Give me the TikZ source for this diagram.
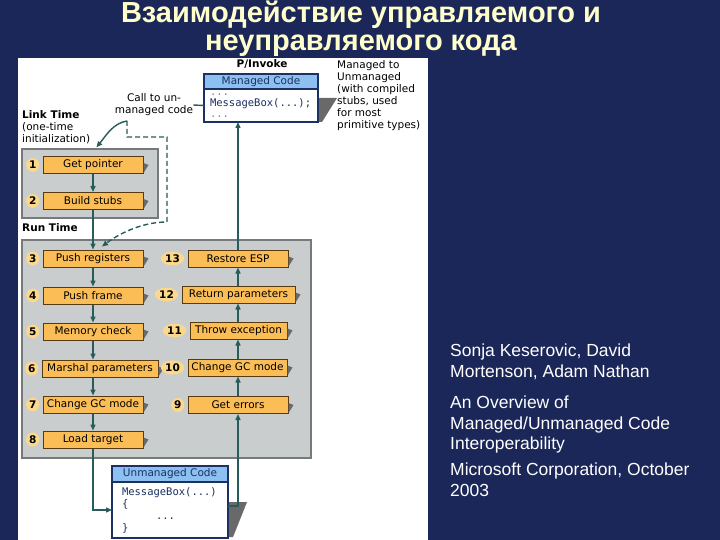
\documentclass[tikz,border=0pt]{standalone}
\usepackage{fontspec}
\setmainfont{Liberation Sans}
\newfontfamily\verdana{DejaVu Sans}
\newfontfamily\codefont{DejaVu Sans Mono}
\usetikzlibrary{shapes.geometric, arrows.meta, positioning, calc}

\definecolor{slidenavy}{RGB}{27,39,88}
\definecolor{titleyellow}{RGB}{255,255,204}
\definecolor{steporange}{RGB}{251,189,86}
\definecolor{stepedge}{RGB}{88,58,18}
\definecolor{tagglow}{RGB}{252,216,140}
\definecolor{phasegrey}{RGB}{201,205,205}
\definecolor{phaseedge}{RGB}{118,122,122}
\definecolor{flowteal}{RGB}{38,92,92}
\definecolor{headblue}{RGB}{140,192,240}
\definecolor{codenavy}{RGB}{28,48,98}
\definecolor{wedgegrey}{RGB}{105,105,105}

\tikzset{
  stepbox/.style={draw=stepedge, fill=steporange, line width=1pt, minimum width=100pt, minimum height=17pt, inner sep=0pt, font=\verdana\fontsize{10.5}{12}\selectfont},
  numtag/.style={ellipse, fill=tagglow, inner sep=1pt, font=\verdana\bfseries\fontsize{10.5}{12}\selectfont},
  phasebox/.style={draw=phaseedge, fill=phasegrey, line width=1.2pt},
  codehead/.style={draw=codenavy, fill=headblue, line width=1.6pt, inner sep=0pt, outer sep=0pt, font=\verdana\fontsize{10.5}{12}\selectfont, text=codenavy},
  codebody/.style={draw=codenavy, fill=white, line width=1.6pt, outer sep=0pt, align=left, font=\codefont\fontsize{10.5}{12}\selectfont, text=codenavy},
  flow/.style={draw=flowteal, line width=1.4pt, -{Triangle[length=6pt,width=5pt]}},
  skipflow/.style={flow, dash pattern=on 5pt off 3pt},
  note/.style={font=\verdana\fontsize{10.5}{12}\selectfont, align=left, inner sep=0pt},
  slidetitle/.style={font=\bfseries\fontsize{29}{28}\selectfont, text=titleyellow, align=center, inner sep=0pt, anchor=north},
  slidetext/.style={text=white, font=\fontsize{17.5}{20.5}\selectfont, align=left, inner sep=0pt, anchor=north west},
}

\begin{document}
\begin{tikzpicture}[x=1pt, y=-1pt]
\useasboundingbox (0,0) rectangle (720,540);
\fill[slidenavy] (0,0) rectangle (720,540);
\clip (0,0) rectangle (720,540);

% diagram panel
\fill[white] (18,58) rectangle (428,540);

% title
\node[slidetitle] (title) at (361,1) {Взаимодействие управляемого и\\неуправляемого кода};

% phases
\node[phasebox, minimum width=136pt, minimum height=69pt] (linkbox) at (90,183.5) {};
\node[phasebox, minimum width=289pt, minimum height=218pt] (runbox) at (166.5,349) {};
\node[note, anchor=north west] (linklabel) at (22,110) {\textbf{Link Time}\\(one-time\\initialization)};
\node[note, font=\verdana\bfseries\fontsize{10.5}{12}\selectfont, anchor=base west] (runlabel) at (22,231) {Run Time};

% shadows of code boxes
\fill[wedgegrey] (318,98) -- (337,98) -- (322,122) -- (318,122) -- cycle;
\fill[wedgegrey] (228,502) -- (247,502) -- (233,537) -- (228,537) -- cycle;

% code boxes
\node[font=\verdana\bfseries\fontsize{10.5}{12}\selectfont, anchor=base] (pinv) at (262,68) {P/Invoke};
\node[codehead, minimum width=114pt, minimum height=15pt] (mhead) at (261,81.5) {Managed Code};
\node[codebody, minimum width=114pt, minimum height=33pt, text width=102pt, inner xsep=6pt, inner ysep=1pt, font=\codefont\fontsize{10.5}{11}\selectfont, below=0pt of mhead] (mbody) {\textcolor{gray}{...}\\MessageBox(...);\\\textcolor{gray}{...}};
\node[note, anchor=north west] (mnote) at (337,60) {Managed to\\Unmanaged\\(with compiled\\stubs, used\\for most\\primitive types)};

\node[codehead, minimum width=116pt, minimum height=16pt] (uhead) at (170,474) {Unmanaged Code};
\node[codebody, minimum width=116pt, minimum height=56pt, text width=96pt, inner xsep=10pt, below=0pt of uhead] (ubody) {MessageBox(...)\\\{\\\hspace*{34pt}...\\\}};

% steps
\node[stepbox] (s1) at (93,165) {Get pointer};
\node[stepbox] (s2) at (93,201) {Build stubs};
\node[stepbox] (s3) at (93,258.5) {Push registers};
\node[stepbox] (s4) at (93,295.5) {Push frame};
\node[stepbox] (s5) at (93,331.5) {Memory check};
\node[stepbox, minimum width=116pt] (s6) at (100,368.5) {Marshal parameters};
\node[stepbox] (s7) at (93,404.5) {Change GC mode};
\node[stepbox] (s8) at (93,439.5) {Load target};
\node[stepbox] (s9) at (238,405) {Get errors};
\node[stepbox, minimum width=99pt] (s10) at (237.5,367.5) {Change GC mode};
\node[stepbox, minimum width=97pt] (s11) at (238.5,330.5) {Throw exception};
\node[stepbox, minimum width=113pt] (s12) at (238.5,294.5) {Return parameters};
\node[stepbox] (s13) at (238,258.5) {Restore ESP};

\foreach \s in {s1,s2,s3,s4,s5,s6,s7,s8,s9,s10,s11,s12,s13}
  \fill[wedgegrey] ($(\s.east)+(0,-2)$) -- ($(\s.east)+(5,0)$) -- ($(\s.south east)+(0,-1)$) -- cycle;

\foreach \s/\n in {s1/1,s2/2,s3/3,s4/4,s5/5,s6/6,s7/7,s8/8,s9/9,s10/10,s11/11,s12/12,s13/13}
  \node[numtag, left=3pt of \s] (t\n) {\n};

% call into unmanaged code
\node[note, align=center] (call) at (154,105) {Call to un-\\managed code};
\draw[draw=flowteal, line width=1.4pt] (call.east) -- (mbody.west);
\coordinate (fork) at (127,121);
\draw[flow] (fork) .. controls +(-14,2) and +(9,-11) .. ($(linkbox.north west)+(75,-1)$);
\coordinate (skiptop) at (167,137);
\coordinate (skipturn) at (167,222);
\draw[skipflow] (fork) |- (skiptop) -- (skipturn) .. controls +(-26,0) and +(16,-12) .. ($(s3.north)+(9,-3)$);

% flow down the left column
\foreach \a/\b in {s1/s2, s2/s3, s3/s4, s4/s5, s7/s8}
  \draw[flow] (\a.south) -- (\b.north);
\draw[flow] (s5.south) -- (s5.south |- s6.north);
\draw[flow] (s6.south -| s7.north) -- (s7.north);
\draw[flow] (s8.south) |- (ubody.west);

% flow up the right column
\draw[flow] ($(ubody.east)+(0,-4)$) -| (s9.south);
\foreach \a/\b in {s9/s10, s10/s11, s11/s12, s12/s13}
  \draw[flow] (\a.north -| s9.north) -- (\b.south -| s9.north);
\draw[flow] (s13.north -| s9.north) -- (s9.north |- mbody.south);

% source
\node[slidetext] (authors) at (450,344) {Sonja Keserovic, David\\Mortenson, Adam Nathan};
\node[slidetext] (paper) at (450,396) {An Overview of\\Managed/Unmanaged Code\\Interoperability};
\node[slidetext] (publisher) at (450,463) {Microsoft Corporation, October\\2003};
\end{tikzpicture}
\end{document}
